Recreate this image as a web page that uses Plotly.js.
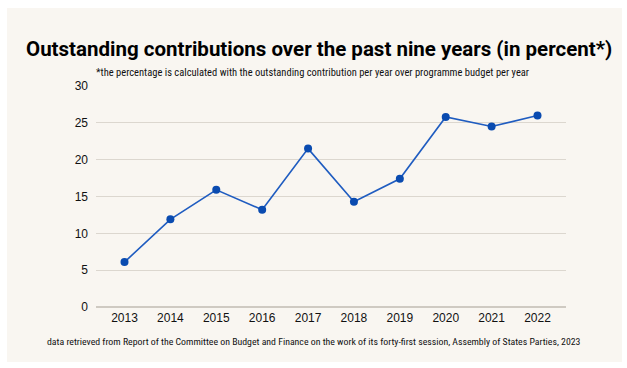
<!DOCTYPE html>
<html>
<head>
<meta charset="utf-8">
<script src="https://cdn.plot.ly/plotly-3.0.1.min.js"></script>
<style>
  html, body { margin: 0; padding: 0; background: #ffffff; width: 627px; height: 368px; overflow: hidden; }
  #chart { position: absolute; left: 7px; top: 8px; width: 615px; height: 354px; }
</style>
</head>
<body>
<div id="chart"></div>
<script>
const years = ["2013", "2014", "2015", "2016", "2017", "2018", "2019", "2020", "2021", "2022"];
const outstandingPercent = [6.1, 11.9, 15.9, 13.2, 21.5, 14.3, 17.4, 25.8, 24.5, 26.0];
const yTicks = [0, 5, 10, 15, 20, 25, 30];

const titleText = "Outstanding contributions over the past nine years (in percent*)";
const subtitleText = "*the percentage is calculated with the outstanding contribution per year over programme budget per year";
const sourceText = "data retrieved from Report of the Committee on Budget and Finance on the work of its forty-first session, Assembly of States Parties, 2023";

const trace = {
  type: "scatter",
  mode: "lines+markers",
  x: years,
  y: outstandingPercent,
  line: { color: "#1f5cc0", width: 1.6 },
  marker: { color: "#0a4bb0", size: 8 },
  hoverinfo: "x+y"
};

const layout = {
  width: 615,
  height: 354,
  paper_bgcolor: "#f9f6f1",
  plot_bgcolor: "#f9f6f1",
  margin: { l: 89, r: 56, t: 78, b: 55 },
  showlegend: false,
  xaxis: {
    type: "category",
    showgrid: false,
    zeroline: false,
    showline: false,
    ticks: "",
    tickfont: { family: "Liberation Sans, Arial, sans-serif", size: 12, color: "#111111" },
    ticklabelstandoff: 2
  },
  yaxis: {
    range: [0, 30],
    tickvals: yTicks,
    showgrid: true,
    gridcolor: "#dcd7cf",
    gridwidth: 1,
    zeroline: true,
    zerolinecolor: "#cfcac2",
    zerolinewidth: 1.5,
    showline: false,
    ticks: "",
    tickfont: { family: "Liberation Sans, Arial, sans-serif", size: 12, color: "#111111" },
    ticklabelstandoff: 7
  },
  annotations: [
    {
      text: "<b>" + titleText + "</b>",
      xref: "paper", yref: "paper",
      x: 0.5, y: 1, xanchor: "center", yanchor: "middle",
      xshift: -12, yshift: 37,
      showarrow: false,
      font: { family: "Roboto, Open Sans, sans-serif", size: 20.5, color: "#000000" }
    },
    {
      text: subtitleText,
      xref: "paper", yref: "paper",
      x: 0.5, y: 1, xanchor: "center", yanchor: "middle",
      xshift: -19, yshift: 14,
      showarrow: false,
      font: { family: "Roboto Condensed, Roboto, sans-serif", size: 10.5, color: "#111111" }
    },
    {
      text: sourceText,
      xref: "paper", yref: "paper",
      x: 0.5, y: 0, xanchor: "center", yanchor: "middle",
      xshift: -17, yshift: -34,
      showarrow: false,
      font: { family: "Roboto Condensed, Roboto, sans-serif", size: 9.8, color: "#111111" }
    }
  ]
};

Plotly.newPlot("chart", [trace], layout, { displayModeBar: false, staticPlot: true });
</script>
</body>
</html>
